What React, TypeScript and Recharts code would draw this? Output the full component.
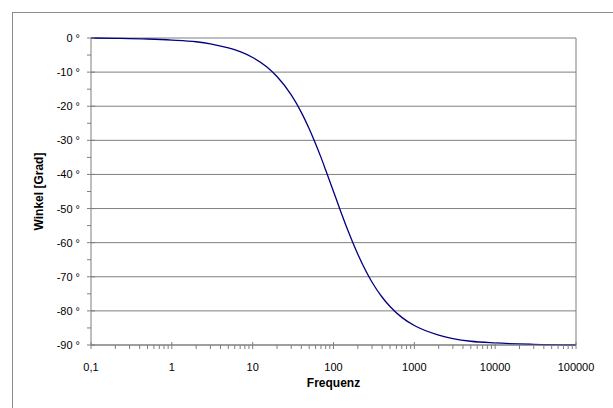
import React from 'react';
import { LineChart, Line, XAxis, YAxis, CartesianGrid, ReferenceLine } from 'recharts';

// Frequenz (Hz) und Phasenwinkel (Grad)
const frequenz = [0.1, 0.2, 0.5, 1, 2, 3, 5, 7, 10, 15, 20, 30, 40, 50, 60, 70, 80, 100, 120, 150, 200, 300, 400, 500, 700, 1000, 2000, 3000, 5000, 10000, 30000, 100000];
const winkel = [0, -0.1, -0.3, -0.6, -1.1, -1.7, -2.9, -4.0, -5.7, -8.5, -11.3, -16.7, -21.8, -26.6, -31.0, -35.0, -38.7, -45.0, -50.2, -56.3, -63.4, -71.6, -76.0, -78.7, -81.9, -84.3, -87.1, -88.1, -88.9, -89.4, -89.8, -90];

const decades = [0.1, 1, 10, 100, 1000, 10000, 100000];
const yMajor = [0, -10, -20, -30, -40, -50, -60, -70, -80, -90];
const yMinor = [-5, -15, -25, -35, -45, -55, -65, -75, -85];

const data = frequenz.map((f, i) => ({ f, w: winkel[i] }));

const xTicks: number[] = [];
decades.slice(0, -1).forEach((d) => {
  for (let k = 1; k < 10; k++) xTicks.push(+(d * k).toPrecision(3));
});
xTicks.push(100000);

const yTicks = [...yMajor, ...yMinor].sort((a, b) => a - b);

const font = 'Arial, "Liberation Sans", sans-serif';
const axisColor = '#7f7f7f';

const XTick = (props: any) => {
  const { x, y, payload } = props;
  const v = payload.value;
  const major = decades.some((d) => Math.abs(d - v) < 1e-9);
  return (
    <g>
      <line x1={x} x2={x} y1={major ? y - 3 : y} y2={y + 4} stroke={axisColor} />
      {major && (
        <text x={x} y={y + 26} textAnchor="middle" fontSize={11} fontFamily={font} fill="#000">
          {v === 0.1 ? '0,1' : String(v)}
        </text>
      )}
    </g>
  );
};

const YTick = (props: any) => {
  const { x, y, payload } = props;
  const v = payload.value;
  const major = v % 10 === 0;
  return (
    <g>
      <line x1={x - 4} x2={major ? x + 4 : x} y1={y} y2={y} stroke={axisColor} />
      {major && (
        <text x={x - 11} y={y + 4} textAnchor="end" fontSize={11} fontFamily={font} fill="#000">
          {`${v} °`}
        </text>
      )}
    </g>
  );
};

export default function App() {
  return (
    <div style={{ position: 'absolute', left: 0, top: 0, width: 613, height: 408, background: '#fff' }}>
      <div
        style={{
          position: 'absolute',
          left: 12,
          top: 12,
          width: 620,
          height: 420,
          borderLeft: '1px solid #8c8c8c',
          borderTop: '1px solid #8c8c8c',
        }}
      />
      <div style={{ position: 'absolute', left: 0, top: 0 }}>
        <LineChart width={613} height={408} data={data} margin={{ top: 38, right: 37, bottom: 0, left: 0 }}>
          <CartesianGrid vertical={false} stroke={axisColor} horizontalValues={yMajor} />
          <XAxis
            dataKey="f"
            type="number"
            scale="log"
            domain={[0.1, 100000]}
            ticks={xTicks}
            interval={0}
            tickSize={0}
            tickMargin={0}
            tickLine={false}
            tick={<XTick />}
            stroke={axisColor}
            height={63}
            allowDataOverflow
            label={{ value: 'Frequenz', position: 'insideBottom', offset: 21, style: { fontFamily: font, fontSize: 12, fontWeight: 'bold', fill: '#000' } }}
          />
          <YAxis
            type="number"
            domain={[-90, 0]}
            ticks={yTicks}
            interval={0}
            tickSize={0}
            tickMargin={0}
            tickLine={false}
            tick={<YTick />}
            stroke={axisColor}
            width={91}
            label={{ value: 'Winkel [Grad]', angle: -90, position: 'insideLeft', offset: 39, style: { textAnchor: 'middle', fontFamily: font, fontSize: 12, fontWeight: 'bold', fill: '#000' } }}
          />
          <ReferenceLine x={100000} stroke={axisColor} />
          <Line
            dataKey="w"
            type="monotone"
            stroke="#000080"
            strokeWidth={1.3}
            dot={false}
            isAnimationActive={false}
          />
        </LineChart>
      </div>
    </div>
  );
}
